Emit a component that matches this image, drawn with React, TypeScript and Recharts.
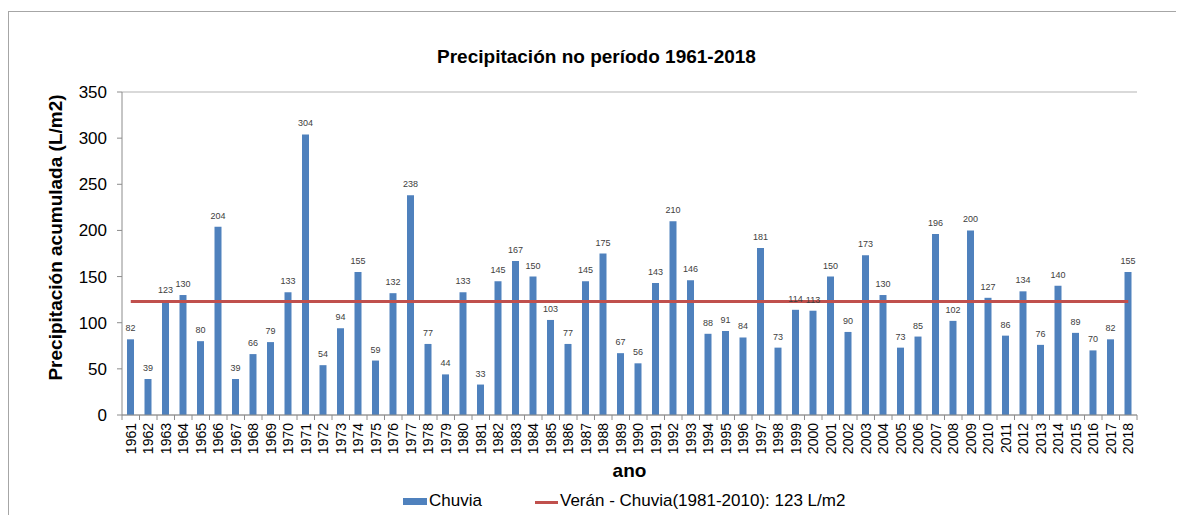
import React from 'react';
import {
  ComposedChart,
  Bar,
  Line,
  XAxis,
  YAxis,
  CartesianGrid,
  LabelList,
  Label,
  Legend,
} from 'recharts';

const years = [
  '1961', '1962', '1963', '1964', '1965', '1966', '1967', '1968', '1969', '1970',
  '1971', '1972', '1973', '1974', '1975', '1976', '1977', '1978', '1979', '1980',
  '1981', '1982', '1983', '1984', '1985', '1986', '1987', '1988', '1989', '1990',
  '1991', '1992', '1993', '1994', '1995', '1996', '1997', '1998', '1999', '2000',
  '2001', '2002', '2003', '2004', '2005', '2006', '2007', '2008', '2009', '2010',
  '2011', '2012', '2013', '2014', '2015', '2016', '2017', '2018',
];

const chuvia = [
  82, 39, 123, 130, 80, 204, 39, 66, 79, 133,
  304, 54, 94, 155, 59, 132, 238, 77, 44, 133,
  33, 145, 167, 150, 103, 77, 145, 175, 67, 56,
  143, 210, 146, 88, 91, 84, 181, 73, 114, 113,
  150, 90, 173, 130, 73, 85, 196, 102, 200, 127,
  86, 134, 76, 140, 89, 70, 82, 155,
];

const mediaVeran = 123;

const yTicks = [0, 50, 100, 150, 200, 250, 300, 350];

const titleText = 'Precipitación no período 1961-2018';
const yLabelText = 'Precipitación acumulada (L/m2)';
const xLabelText = 'ano';
const barName = 'Chuvia';
const lineName = 'Verán - Chuvia(1981-2010): 123 L/m2';

const data = years.map((ano, i) => ({ ano, chuvia: chuvia[i], media: mediaVeran }));

const FONT = '"Liberation Sans", Arial, sans-serif';
const BLUE = '#4f81bd';
const RED = '#c0504d';
const AXIS = '#8c8c8c';
const GRID = '#b3b3b3';

const YearTick = (props: any) => {
  const { x, y, payload, index, visibleTicksCount, width } = props;
  const count = visibleTicksCount || years.length;
  const w = typeof width === 'number' && width > 0 ? width : 1016;
  const bw = w / count;
  return (
    <g>
      <line x1={x - bw / 2} x2={x - bw / 2} y1={y} y2={y + 5} stroke={AXIS} strokeWidth={1} />
      {index === count - 1 && (
        <line x1={x + bw / 2} x2={x + bw / 2} y1={y} y2={y + 5} stroke={AXIS} strokeWidth={1} />
      )}
      <text
        x={x}
        y={y + 8}
        transform={`rotate(-90 ${x} ${y + 8})`}
        textAnchor="end"
        dy="0.36em"
        fontSize={14}
        fontFamily={FONT}
        fill="#000"
      >
        {payload.value}
      </text>
    </g>
  );
};

const YLabel = (props: any) => {
  const vb = props.viewBox || { x: 0, y: 80, width: 113, height: 323 };
  const cx = vb.x + 46;
  const cy = vb.y + vb.height / 2 - 16;
  return (
    <text
      x={cx}
      y={cy}
      transform={`rotate(-90 ${cx} ${cy})`}
      textAnchor="middle"
      dominantBaseline="central"
      fontSize={19}
      fontWeight="bold"
      fontFamily={FONT}
      fill="#000"
    >
      {yLabelText}
    </text>
  );
};

const LegendContent = () => (
  <div style={{ position: 'relative', width: 1175, height: 24, fontFamily: FONT, fontSize: 17, color: '#000' }}>
    <div style={{ position: 'absolute', left: 394, top: 6, width: 24, height: 7, background: BLUE }} />
    <span style={{ position: 'absolute', left: 420, top: -1, lineHeight: '20px', whiteSpace: 'nowrap' }}>{barName}</span>
    <div style={{ position: 'absolute', left: 526, top: 8.5, width: 23, height: 3, background: RED }} />
    <span style={{ position: 'absolute', left: 551, top: -1, lineHeight: '20px', whiteSpace: 'nowrap' }}>{lineName}</span>
  </div>
);

export default function App() {
  return (
    <div
      style={{
        marginTop: 3,
        width: 1175,
        height: 503,
        borderLeft: '1px solid #a6a6a6',
        borderTop: '1px solid #a6a6a6',
        position: 'relative',
        background: '#fff',
        fontFamily: FONT,
      }}
    >
      <div
        style={{
          position: 'absolute',
          left: 0,
          top: 34,
          width: 1175,
          textAlign: 'center',
          fontSize: 19,
          fontWeight: 'bold',
          lineHeight: 'normal',
          color: '#000',
          zIndex: 2,
        }}
      >
        {titleText}
      </div>
      <ComposedChart
        width={1175}
        height={503}
        data={data}
        margin={{ top: 80, right: 47, bottom: 0, left: 0 }}
        barCategoryGap={0}
      >
        <CartesianGrid vertical={false} stroke={GRID} strokeWidth={1} />
        <XAxis
          dataKey="ano"
          interval={0}
          height={100}
          tickSize={0}
          tickMargin={0}
          tickLine={false}
          axisLine={{ stroke: AXIS, strokeWidth: 1 }}
          tick={<YearTick />}
        >
          <Label
            value={xLabelText}
            position="insideBottom"
            offset={38}
            fontSize={19}
            fontWeight="bold"
            fontFamily={FONT}
            fill="#000"
          />
        </XAxis>
        <YAxis
          yAxisId="left"
          width={113}
          domain={[0, 350]}
          ticks={yTicks}
          interval={0}
          tickSize={5}
          tickMargin={10}
          tickLine={{ stroke: AXIS }}
          axisLine={{ stroke: AXIS, strokeWidth: 1 }}
          tick={{ fontSize: 17, fill: '#000', fontFamily: FONT }}
        >
          <Label content={<YLabel />} />
        </YAxis>
        <YAxis
          yAxisId="right"
          orientation="right"
          width={0}
          domain={[0, 350]}
          tick={false}
          tickLine={false}
          axisLine={{ stroke: AXIS, strokeWidth: 1 }}
        />
        <Legend
          layout="vertical"
          align="center"
          verticalAlign="middle"
          wrapperStyle={{ left: 0, top: 480, width: 1175, height: 24 }}
          content={<LegendContent />}
        />
        <Bar
          yAxisId="left"
          dataKey="chuvia"
          name={barName}
          fill={BLUE}
          barSize={7}
          isAnimationActive={false}
        >
          <LabelList
            dataKey="chuvia"
            position="top"
            offset={8}
            fontSize={9}
            fontFamily={FONT}
            fill="#404040"
          />
        </Bar>
        <Line
          yAxisId="left"
          dataKey="media"
          name={lineName}
          stroke={RED}
          strokeWidth={3}
          dot={false}
          activeDot={false}
          type="linear"
          isAnimationActive={false}
        />
      </ComposedChart>
    </div>
  );
}
